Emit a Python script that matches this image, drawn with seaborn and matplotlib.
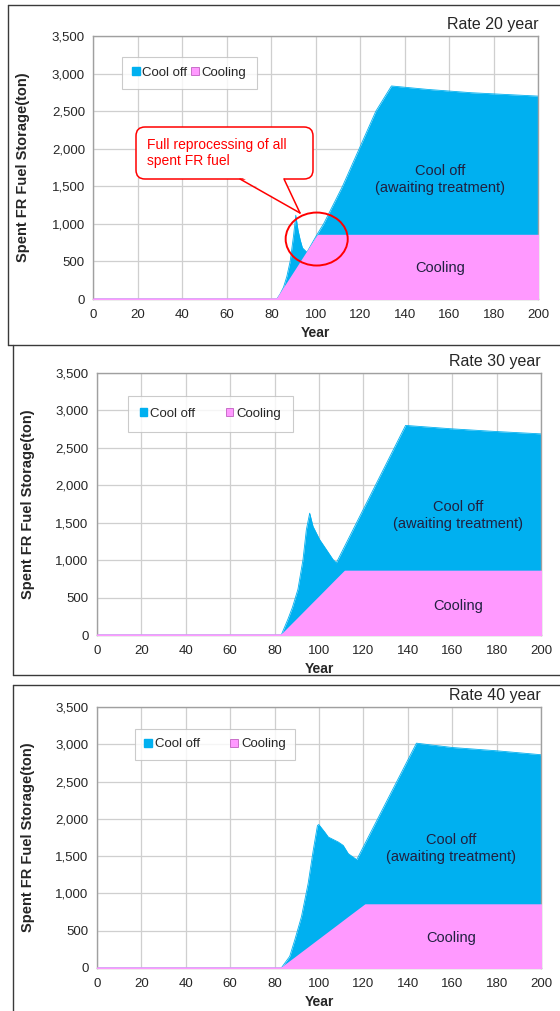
import numpy as np
import pandas as pd
import matplotlib
matplotlib.use("Agg")
import matplotlib.pyplot as plt
import seaborn as sns
from matplotlib.patches import Patch, FancyBboxPatch, Polygon, Ellipse
from matplotlib.lines import Line2D
from matplotlib.transforms import Affine2D

# ---------------- data ----------------
years_20 = [0, 82.5, 84, 85.5, 87, 88.5, 90, 91, 92, 93, 94, 96, 100, 101, 103.5, 112, 119.5, 127, 134, 150, 170, 200]
cooling_20 = [0, 0, 69, 138, 207, 276, 345, 391, 437, 484, 530, 622, 806, 850, 850, 850, 850, 850, 850, 850, 850, 850]
cool_off_20 = [0, 0, 0, 20, 95, 230, 500, 724, 480, 300, 150, 0, 24, 30, 150, 650, 1150, 1650, 1985, 1940, 1895, 1850]

years_30 = [0, 83, 86, 88, 90.5, 92.8, 94.3, 95.8, 97.3, 100.3, 103.3, 106.3, 107.8, 111.6, 120, 130, 139, 160, 180, 200]
cooling_30 = [0, 0, 90, 150, 224, 293, 338, 383, 428, 517, 607, 697, 742, 855, 855, 855, 855, 855, 855, 855]
cool_off_30 = [0, 0, 122, 217, 386, 716, 1069, 1245, 1023, 757, 535, 312, 223, 333, 827, 1415, 1945, 1899, 1863, 1832]

years_40 = [0, 83, 86.8, 89.1, 92.1, 95.1, 97.4, 99.3, 99.9, 102.6, 104.2, 108.7, 110.9, 113.2, 117, 120.8, 130, 143.9, 160, 180, 200]
cooling_40 = [0, 0, 86, 137, 205, 272, 324, 367, 380, 441, 477, 578, 628, 680, 765, 850, 850, 850, 850, 850, 850]
cool_off_40 = [0, 0, 70, 241, 484, 861, 1254, 1544, 1544, 1381, 1279, 1111, 1016, 853, 688, 824, 1359, 2165, 2107, 2063, 2010]

series_names = ["Cool off", "Cooling"]
panel_titles = ["Rate 20 year", "Rate 30 year", "Rate 40 year"]
x_ticks = [0, 20, 40, 60, 80, 100, 120, 140, 160, 180, 200]
y_ticks = [0, 500, 1000, 1500, 2000, 2500, 3000, 3500]
y_tick_labels = ["0", "500", "1,000", "1,500", "2,000", "2,500", "3,000", "3,500"]
x_label = "Year"
y_label = "Spent FR Fuel Storage(ton)"
cool_off_text = "Cool off\n(awaiting treatment)"
cooling_text = "Cooling"
callout_text = "Full reprocessing of all\nspent FR fuel"

panels = [
    (years_20, cooling_20, cool_off_20),
    (years_30, cooling_30, cool_off_30),
    (years_40, cooling_40, cool_off_40),
]

# ---------------- style ----------------
BLUE = "#00B0F0"
PINK = "#FF99FF"
GRID = "#CFCFCF"
SPINE = "#A0A0A0"
TEXT = "#262626"

sns.set_style("white")
plt.rcParams["font.family"] = ["Liberation Sans", "DejaVu Sans"]

W, H = 560, 1011
fig = plt.figure(figsize=(W / 100, H / 100), dpi=100)
pix = Affine2D().scale(1 / W, 1 / H) + fig.transFigure


def P(x, y):
    return (x, H - y)


# axes boxes in pixels: left, top, right, bottom
axes_px = [(93.3, 36, 538.3, 299), (97, 373, 541, 635), (97, 707, 541, 968)]
legend_anchor = [(0.064, 0.92), (0.069, 0.912), (0.086, 0.915)]
legend_colspace = [0.3, 2.3, 2.3]
legend_pad = [0.75, 0.9, 0.7]
label_pos = [(155.8, 1595, 408), (162.6, 1600, 391), (159.5, 1605, 400)]

# panel frames (figure decoration)
frames = [
    [((8, 5), (560, 5)), ((8, 5), (8, 345)), ((8, 345), (560, 345))],
    [((13, 345), (13, 675)), ((13, 675), (560, 675))],
    [((13, 685), (560, 685)), ((13, 685), (13, 1011))],
]
for segs in frames:
    for (a, b) in segs:
        fig.add_artist(Line2D([a[0], b[0]], [H - a[1], H - b[1]], transform=pix,
                              color="#3A3A3A", lw=1.0))

for i, (yrs, cool, off) in enumerate(panels):
    l, t, r, b = axes_px[i]
    ax = fig.add_axes([l / W, 1 - b / H, (r - l) / W, (b - t) / H])
    df = pd.DataFrame({"Year": yrs, "Cooling": cool, "Cool off": off})
    df["top"] = df["Cooling"] + df["Cool off"]

    ax.fill_between(df["Year"], 0, df["top"], color=BLUE, lw=0, zorder=2)
    ax.fill_between(df["Year"], 0, df["Cooling"], facecolor=PINK, edgecolor=PINK, lw=1.2, zorder=3)
    sns.lineplot(data=df, x="Year", y="top", ax=ax, color=BLUE, lw=0.6, zorder=2, legend=False)

    ax.set_xlim(0, 200)
    ax.set_ylim(0, 3500)
    ax.set_xticks(x_ticks)
    ax.set_yticks(y_ticks)
    ax.set_yticklabels(y_tick_labels)
    ax.grid(True, color=GRID, lw=0.9, zorder=0)
    ax.set_axisbelow(True)
    for s in ax.spines.values():
        s.set_color(SPINE)
        s.set_linewidth(1.0)
        s.set_visible(True)
    ax.tick_params(axis="both", direction="out", length=3, width=0.8, color=SPINE,
                   labelsize=9.5, labelcolor=TEXT, pad=3)
    ax.tick_params(axis="x", pad=4)

    ax.set_xlabel(x_label, fontsize=10, fontweight="bold", color=TEXT)
    ax.xaxis.set_label_coords(0.5, -27 / (b - t))
    ax.set_ylabel(y_label, fontsize=10.5, fontweight="bold", color=TEXT)
    ax.yaxis.set_label_coords((23 - l) / (r - l) if i == 0 else (28 - l) / (r - l), 0.5)
    ax.yaxis.label.set_va("center")

    ax.annotate(panel_titles[i], xy=(1.0, 1.0), xycoords="axes fraction",
                xytext=(0, 8.5), textcoords="offset points", ha="right", va="center",
                fontsize=11.5, color=TEXT)

    lx, lcv, ly = label_pos[i]
    ax.text(lx, lcv, cool_off_text, ha="center", va="center", fontsize=10.5,
            color="#202040", linespacing=1.25, zorder=5)
    ax.text(lx, ly, cooling_text, ha="center", va="center", fontsize=10.5,
            color="#202040", zorder=5)

    handles = [Patch(facecolor=BLUE, edgecolor=BLUE), Patch(facecolor=PINK, edgecolor="#C060C0", lw=0.6)]
    leg = ax.legend(handles, series_names, loc="upper left", bbox_to_anchor=legend_anchor[i],
                    ncol=2, frameon=True, fancybox=False, fontsize=9.5,
                    handlelength=0.6, handleheight=0.6, handletextpad=0.2,
                    columnspacing=legend_colspace[i], borderpad=legend_pad[i],
                    borderaxespad=0)
    leg.get_frame().set_edgecolor("#BFBFBF")
    leg.get_frame().set_linewidth(0.8)
    for txt in leg.get_texts():
        txt.set_color(TEXT)

    if i == 0:
        # circle around the reprocessing point
        ax.add_patch(Ellipse((100.4, 798), 27.9, 705, fill=False, ec="#FF0000", lw=1.4, zorder=6))
        # speech bubble
        bx0, by0, bx1, by1 = 136, 127, 313, 179
        box = FancyBboxPatch(P(bx0, by1), bx1 - bx0, by1 - by0,
                             boxstyle="round,pad=0,rounding_size=9", transform=pix,
                             fc="white", ec="#FF0000", lw=1.1, zorder=10)
        fig.add_artist(box)
        tip = P(300, 213)
        base_l, base_r = P(240, by1), P(284, by1)
        fig.add_artist(Polygon([P(241, by1 - 2), P(283, by1 - 2), tip], closed=True,
                               transform=pix, fc="white", ec="none", zorder=11))
        fig.add_artist(Line2D([base_l[0], tip[0]], [base_l[1], tip[1]], transform=pix,
                              color="#FF0000", lw=1.1, zorder=12))
        fig.add_artist(Line2D([base_r[0], tip[0]], [base_r[1], tip[1]], transform=pix,
                              color="#FF0000", lw=1.1, zorder=12))
        fig.text(147 / W, 1 - 153 / H, callout_text, ha="left", va="center",
                 fontsize=10, color="#FF0000", linespacing=1.25, zorder=13)

fig.savefig("out.png", dpi=100)
